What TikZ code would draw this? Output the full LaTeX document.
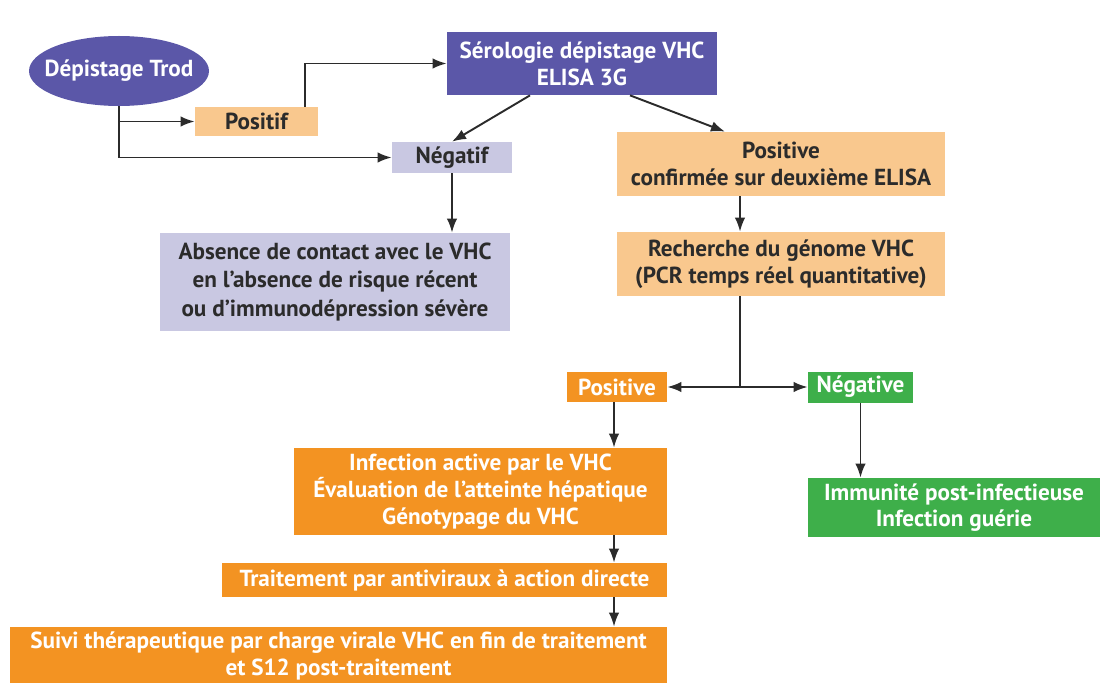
\documentclass[tikz,border=0pt]{standalone}
\usepackage{fontspec}
\setmainfont{PT Sans}
\usetikzlibrary{arrows.meta,shapes.geometric}
\definecolor{serobleu}{HTML}{5B57A8}
\definecolor{orangeclair}{HTML}{F9C88E}
\definecolor{lavande}{HTML}{C9C8E2}
\definecolor{orangevif}{HTML}{F39322}
\definecolor{vertvif}{HTML}{3EAF4A}
\definecolor{textesombre}{HTML}{2B2B2B}
\tikzset{
  sz/.style 2 args={minimum width=#1*0.02cm, minimum height=#2*0.02cm},
  boite/.style={rectangle, inner sep=0pt, align=center,
    font=\bfseries\fontsize{13.2}{15.2}\selectfont},
  bleu/.style={boite, fill=serobleu, text=white},
  clair/.style={boite, fill=orangeclair, text=textesombre},
  pale/.style={boite, fill=lavande, text=textesombre},
  vif/.style={boite, fill=orangevif, text=white},
  vert/.style={boite, fill=vertvif, text=white},
  fleche/.style={-{Latex[length=8pt,width=6pt]}, line width=1.1pt, draw=textesombre}
}
\begin{document}
\begin{tikzpicture}[x=0.02cm, y=-0.02cm]
      \useasboundingbox (0,0) rectangle (1104,682);
      \draw
        (119,71) node[bleu, ellipse, inner xsep=-7pt, sz={180}{70}] (trod){Dépistage Trod}
        (256.5,121.5) node[clair, sz={123}{29}] (pos1){Positif}
        (582,63.5) node[bleu, sz={270}{63}] (sero){Sérologie dépistage VHC\\ELISA 3G}
        (452,157.5) node[pale, sz={120}{31}] (neg1){Négatif}
        (781,164) node[clair, sz={328}{64}] (conf){Positive\\confirmée sur deuxième ELISA}
        (781,264) node[clair, sz={328}{64}] (rech){Recherche du génome VHC\\(PCR temps réel quantitative)}
        (335,282) node[pale, sz={350}{98}, font=\bfseries\fontsize{13.2}{16.2}\selectfont] (absc){Absence de contact avec le VHC\\en l’absence de risque récent\\ou d’immunodépression sévère}
        (617,387) node[vif, sz={100}{30}] (pos2){Positive}
        (860.5,387) node[vert, sz={105}{31}] (neg2){Négative}
        (480.5,491.5) node[vif, sz={373}{87}] (inf){Infection active par le VHC\\Évaluation de l’atteinte hépatique\\Génotypage du VHC}
        (444.5,580) node[vif, sz={445}{34}] (trt){Traitement par antiviraux à action directe}
        (338.5,656) node[vif, sz={657}{58}] (suivi){Suivi thérapeutique par charge virale VHC en fin de traitement\\et S12 post-traitement}
        (954,507.5) node[vert, sz={292}{59}] (imm){Immunité post-infectieuse\\Infection guérie};
      \coordinate (split) at ([xshift=-0.82cm]rech.south |- pos2.east);
      \begin{scope}[fleche]
        \draw (trod.south) |- (neg1.west);
        \draw (trod.south |- pos1.west) to (pos1.west);
        \draw ([xshift=-0.26cm]pos1.north east) |- (sero.west);
        \draw ([xshift=-1.04cm]sero.south) to (neg1.north);
        \draw ([xshift=0.96cm]sero.south) to ([xshift=-1.12cm]conf.north);
        \draw ([xshift=-0.82cm]conf.south) to ([xshift=-0.82cm]rech.north);
        \draw[-] ([xshift=-0.82cm]rech.south) to (split);
        \draw (split) to (pos2.east);
        \draw (split) to (neg2.west);
        \draw (neg1.south) to (neg1.south |- absc.north);
        \draw ([xshift=-0.06cm]pos2.south) to ([xshift=-0.06cm]pos2.south |- inf.north);
        \draw ([xshift=-0.06cm]pos2.south |- inf.south) to ([xshift=-0.06cm]pos2.south |- trt.north);
        \draw ([xshift=-0.06cm]pos2.south |- trt.south) to ([xshift=-0.06cm]pos2.south |- suivi.north);
        \draw (neg2.south) to (neg2.south |- imm.north);
      \end{scope}
    \end{tikzpicture}
\end{document}
